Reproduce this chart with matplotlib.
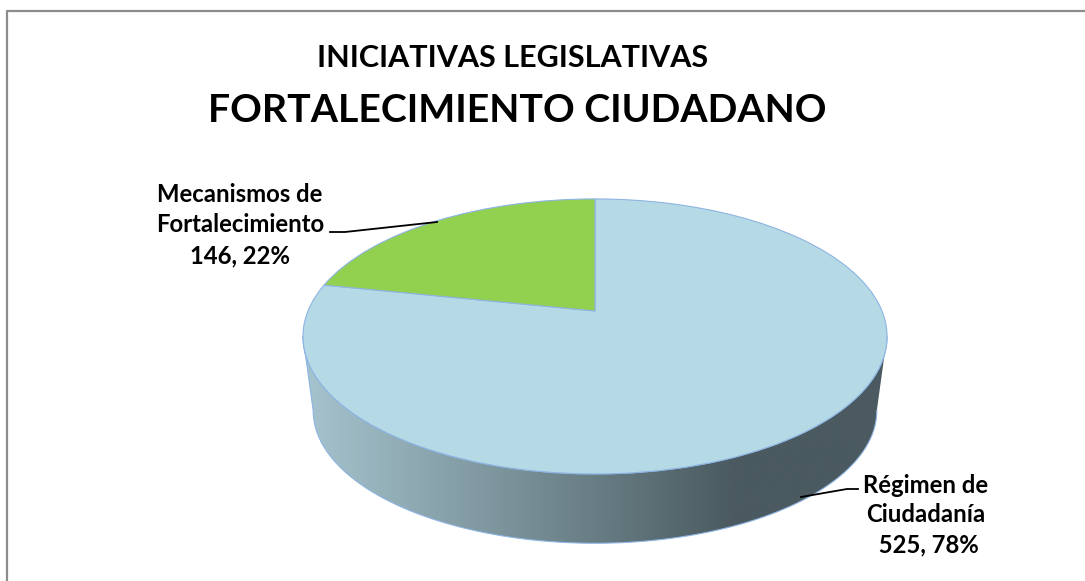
import numpy as np
import matplotlib
matplotlib.use('Agg')
import matplotlib.pyplot as plt
from matplotlib.colors import LinearSegmentedColormap
from matplotlib.patches import Polygon
from matplotlib.transforms import Transform

#data
categories = ['Régimen de\nCiudadanía', 'Mecanismos de\nFortalecimiento']
values = [525, 146]
slice_colors = ['#B5DAE6', '#92D050']
title_top = 'INICIATIVAS LEGISLATIVAS'
title_main = 'FORTALECIMIENTO CIUDADANO'

plt.rcParams['font.family'] = ['Lato', 'DejaVu Sans']

#pie geometry in pixels
hub_x, hub_y = 595, 311
rx, ry, k = 287, 132.8, 0.185
edge_color = '#8DB4E2'


#excel style perspective, tilts the flat pie backwards
class Tilt(Transform):
    input_dims = 2
    output_dims = 2

    def __init__(self, scale=1.0, drop=0.0):
        super().__init__()
        self.scale = scale
        self.drop = drop

    def transform_non_affine(self, values):
        values = np.asarray(values)
        w = 1 + k * values[:, 1]
        x = hub_x + self.scale * rx * values[:, 0] / w
        y = hub_y + self.drop - self.scale * ry * values[:, 1] / w
        return np.column_stack([x, y])


fig = plt.figure(figsize=(10.85, 5.81), dpi=100)
ax = fig.add_axes([0, 0, 1, 1])

wedges, _ = ax.pie(values, colors=slice_colors, startangle=90, counterclock=False,
                   wedgeprops={'edgecolor': edge_color, 'linewidth': 0.8, 'zorder': 3})
for w in wedges:
    w.set_transform(Tilt() + ax.transData)

#side of the pie: front part of the top rim and the bottom rim
phi = np.arcsin(k)
t = np.linspace(-phi, -np.pi + phi, 200)
rim = np.column_stack([np.cos(t), np.sin(t)])
top_rim = Tilt().transform(rim)
bottom_rim = Tilt(scale=0.965, drop=75).transform(rim)
side = np.vstack([top_rim, bottom_rim[::-1]])

side_cmap = LinearSegmentedColormap.from_list(
    'side', [(0, '#A6C4CE'), (0.5, '#687D84'), (0.74, '#4A5A60'), (1, '#4A5A60')])
im = ax.imshow(np.linspace(0, 1, 300).reshape(1, -1), cmap=side_cmap, aspect='auto',
               extent=[303, 887, 560, 330], zorder=1)
im.set_clip_path(Polygon(side, closed=True, transform=ax.transData))
ax.plot(side[:, 0], side[:, 1], color=edge_color, lw=0.8, zorder=2)

ax.set_aspect('auto')
ax.set_xlim(0, 1085)
ax.set_ylim(581, 0)
ax.axis('off')

#chart border, only top and left are inside the picture
ax.plot([7, 7, 1085], [581, 11, 11], color='#8C8C8C', lw=1.6, zorder=5)

#titles
ax.text(513, 58, title_top, ha='center', va='center', fontsize=22, fontweight='bold', color='black')
ax.text(517, 110, title_main, ha='center', va='center', fontsize=28.3, fontweight='bold', color='black')

#labels
total = sum(values)
reg_label = f'{categories[0]}\n {values[0]}, {values[0] / total:.0%}'
mec_label = f'{categories[1]}\n{values[1]}, {values[1] / total:.0%}'
ax.text(925.5, 515, reg_label, ha='center', va='center', fontsize=17.2, fontweight='bold',
        linespacing=1.36)
ax.text(240, 225, mec_label, ha='center', va='center', fontsize=17.2, fontweight='bold',
        linespacing=1.4)

#leader lines
ax.plot([330, 345, 437], [232, 232, 222], color='black', lw=1.3, zorder=4)
ax.plot([858, 847, 801], [489, 489, 497], color='black', lw=1.3, zorder=4)

fig.savefig('out.png', dpi=100)
